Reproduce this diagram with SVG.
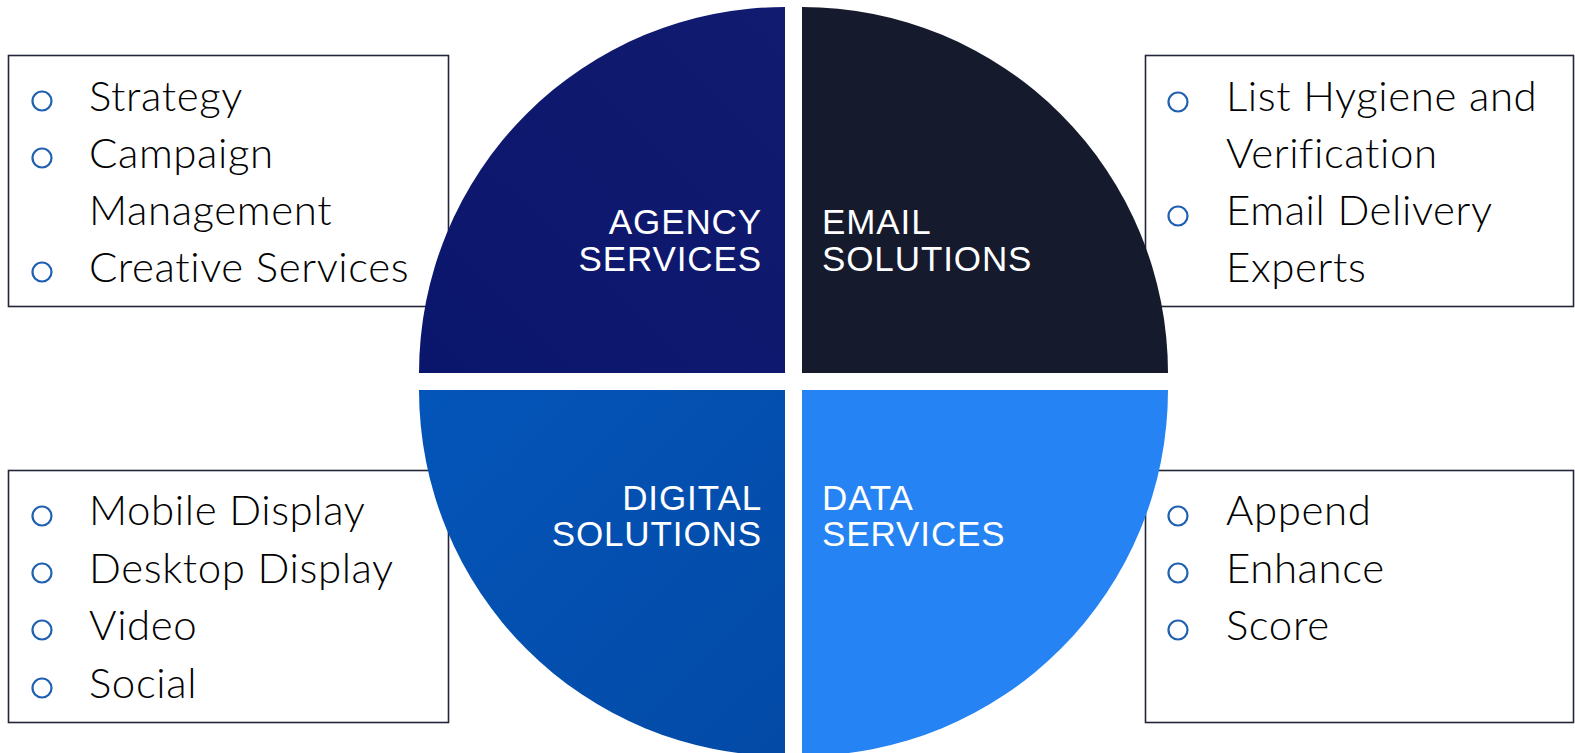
<svg xmlns="http://www.w3.org/2000/svg" width="1575" height="753" viewBox="0 0 1575 753">
  <style>
    .box { fill: #ffffff; stroke: #23263a; stroke-width: 1.6; }
    .item { font-family: Lato, "Liberation Sans", sans-serif; font-size: 42px; font-weight: 300; fill: #000000; letter-spacing: 0.6px; }
    .bullet { fill: none; stroke: #1f60b0; stroke-width: 2.2; }
    .label { font-family: "Liberation Sans", Arial, sans-serif; font-size: 35px; fill: #ffffff; letter-spacing: 0.9px; }
  </style>
  <defs>
    <linearGradient id="gAgency" x1="0" y1="1" x2="1" y2="0">
      <stop offset="0" stop-color="#0a156c"/>
      <stop offset="1" stop-color="#111c70"/>
    </linearGradient>
    <linearGradient id="gDigital" x1="0" y1="0" x2="1" y2="1">
      <stop offset="0" stop-color="#0455b9"/>
      <stop offset="1" stop-color="#034aa6"/>
    </linearGradient>
  </defs>
  <rect width="1575" height="753" fill="#ffffff"/>

  <!-- detail boxes sit behind the wheel -->
  <g id="agency-list">
    <rect class="box" x="8.5" y="55.5" width="440" height="251"/>
    <circle class="bullet" cx="42" cy="101" r="9.5"/>
    <text class="item" x="89" y="111">Strategy</text>
    <circle class="bullet" cx="42" cy="158" r="9.5"/>
    <text class="item" x="89" y="168">Campaign</text>
    <text class="item" x="89" y="225">Management</text>
    <circle class="bullet" cx="42" cy="272" r="9.5"/>
    <text class="item" x="89" y="282">Creative Services</text>
  </g>
  <g id="email-list">
    <rect class="box" x="1145.5" y="55.5" width="428" height="251"/>
    <circle class="bullet" cx="1178" cy="102" r="9.5"/>
    <text class="item" x="1226" y="111">List Hygiene and</text>
    <text class="item" x="1226" y="168">Verification</text>
    <circle class="bullet" cx="1178" cy="216" r="9.5"/>
    <text class="item" x="1226" y="225">Email Delivery</text>
    <text class="item" x="1226" y="282">Experts</text>
  </g>
  <g id="digital-list">
    <rect class="box" x="8.5" y="470.5" width="440" height="252"/>
    <circle class="bullet" cx="42" cy="516" r="9.5"/>
    <text class="item" x="89" y="525">Mobile Display</text>
    <circle class="bullet" cx="42" cy="573" r="9.5"/>
    <text class="item" x="89" y="583">Desktop Display</text>
    <circle class="bullet" cx="42" cy="630" r="9.5"/>
    <text class="item" x="89" y="640">Video</text>
    <circle class="bullet" cx="42" cy="688" r="9.5"/>
    <text class="item" x="89" y="698">Social</text>
  </g>
  <g id="data-list">
    <rect class="box" x="1145.5" y="470.5" width="428" height="252"/>
    <circle class="bullet" cx="1178" cy="516" r="9.5"/>
    <text class="item" x="1226" y="525">Append</text>
    <circle class="bullet" cx="1178" cy="573" r="9.5"/>
    <text class="item" x="1226" y="583">Enhance</text>
    <circle class="bullet" cx="1178" cy="630" r="9.5"/>
    <text class="item" x="1226" y="640">Score</text>
  </g>

  <!-- wheel quadrants -->
  <g id="agency-services">
    <path d="M785,373 L419,373 A366,366 0 0 1 785,7 Z" fill="url(#gAgency)"/>
    <text class="label" x="762" y="234" text-anchor="end">AGENCY</text>
    <text class="label" x="762" y="271" text-anchor="end">SERVICES</text>
  </g>
  <g id="email-solutions">
    <path d="M802,373 L802,7 A366,366 0 0 1 1168,373 Z" fill="#151a2c"/>
    <text class="label" x="822" y="234">EMAIL</text>
    <text class="label" x="822" y="271">SOLUTIONS</text>
  </g>
  <g id="digital-solutions">
    <path d="M785,390 L785,756 A366,366 0 0 1 419,390 Z" fill="url(#gDigital)"/>
    <text class="label" x="762" y="510" text-anchor="end">DIGITAL</text>
    <text class="label" x="762" y="546" text-anchor="end">SOLUTIONS</text>
  </g>
  <g id="data-services">
    <path d="M802,390 L1168,390 A366,366 0 0 1 802,756 Z" fill="#2583f3"/>
    <text class="label" x="822" y="510">DATA</text>
    <text class="label" x="822" y="546">SERVICES</text>
  </g>
</svg>
